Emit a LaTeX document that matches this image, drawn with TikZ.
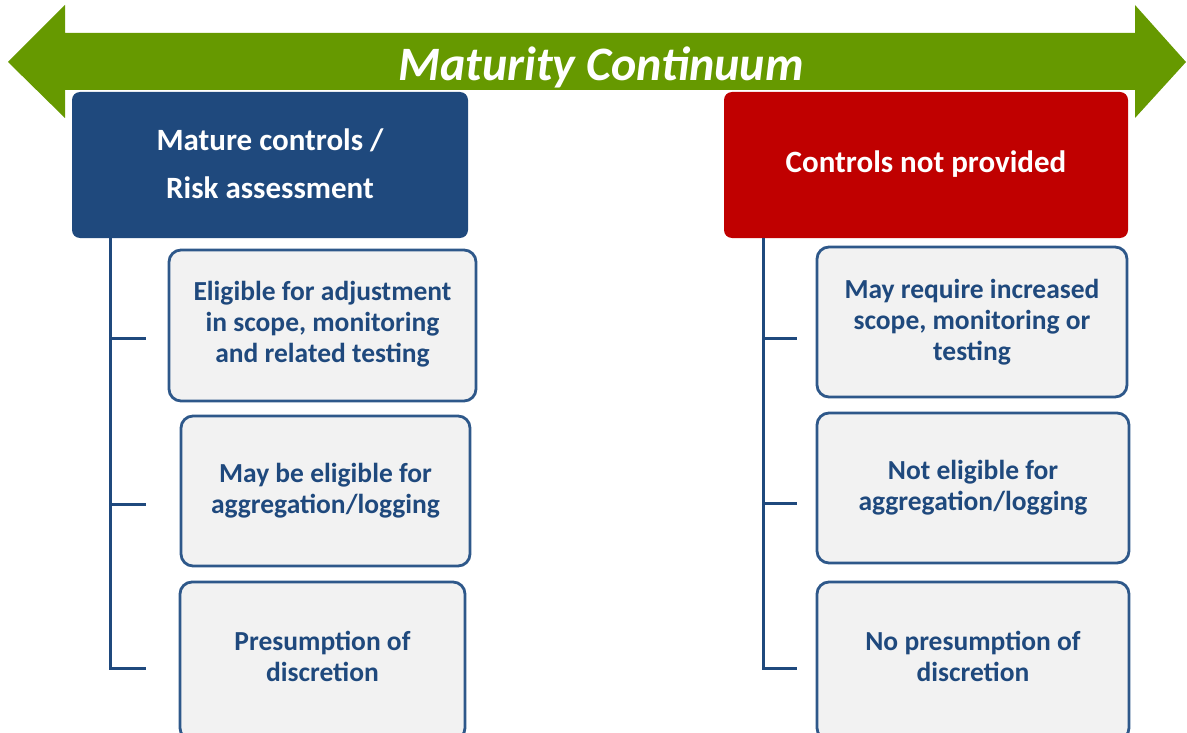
\documentclass[tikz,border=0pt]{standalone}
\usepackage{fontspec}
\setmainfont{Carlito}
\definecolor{arrowgreen}{RGB}{102,153,0}
\definecolor{hdrblue}{RGB}{31,73,125}
\definecolor{hdrred}{RGB}{192,0,0}
\definecolor{txtblue}{RGB}{31,73,125}
\definecolor{boxedge}{RGB}{46,88,138}
\definecolor{boxfill}{RGB}{242,242,242}
\begin{document}
\begin{tikzpicture}[x=1pt,y=-1pt,
  header/.style={text=white, align=center,
    font=\fontsize{31}{48}\selectfont\bfseries, inner sep=0pt},
  itembox/.style={draw=boxedge, line width=2.8pt, fill=boxfill, rounded corners=12pt,
    text=txtblue, align=center, font=\fontsize{27.5}{31}\selectfont\bfseries, inner sep=0pt},
  tree/.style={draw=hdrblue, line width=3pt}
]
\useasboundingbox (0,0) rectangle (1187,733);
% arrow
\fill[arrowgreen] (8,62) -- (65,5) -- (65,33) -- (1135,33) -- (1135,5) -- (1186,62)
  -- (1135,118) -- (1135,90) -- (65,90) -- (65,118) -- cycle;
\node[text=white, font=\fontsize{48}{50}\selectfont\bfseries\itshape] (title) at (601,67) {Maturity Continuum};
% headers
\path[fill=hdrblue, rounded corners=8pt] (72,92) rectangle (468,238);
\node[header] (hL) at (270,164) {Mature controls /\\Risk assessment};
\path[fill=hdrred, rounded corners=8pt] (724,92) rectangle (1128,238);
\node[header] (hR) at (926,164) {Controls not provided};
% left items
\path[itembox] (169,250) rectangle (476,401) node[midway, yshift=1pt] (l1) {Eligible for adjustment\\in scope, monitoring\\and related testing};
\path[itembox] (181,416) rectangle (470,566) node[midway] (l2) {May be eligible for\\aggregation/logging};
\path[itembox] (180,582) rectangle (465,740) node[midway, yshift=5pt] (l3) {Presumption of\\discretion};
% right items
\path[itembox] (817,247) rectangle (1127,397) node[midway] (r1) {May require increased\\scope, monitoring or\\testing};
\path[itembox] (817,413) rectangle (1129,563) node[midway] (r2) {Not eligible for\\aggregation/logging};
\path[itembox] (817,582) rectangle (1129,740) node[midway, yshift=5pt] (r3) {No presumption of\\discretion};
% tree lines left
\coordinate (lt) at (110,238);
\coordinate (lb1) at (146,338);
\coordinate (lb2) at (146,504);
\coordinate (lb3) at (146,668);
\draw[tree] (lt) |- (lb3);
\draw[tree] (lt |- lb1) -- (lb1);
\draw[tree] (lt |- lb2) -- (lb2);
% tree lines right
\coordinate (rt) at (763,238);
\coordinate (rb1) at (797,338);
\coordinate (rb2) at (797,503);
\coordinate (rb3) at (797,668);
\draw[tree] (rt) |- (rb3);
\draw[tree] (rt |- rb1) -- (rb1);
\draw[tree] (rt |- rb2) -- (rb2);
\end{tikzpicture}
\end{document}
